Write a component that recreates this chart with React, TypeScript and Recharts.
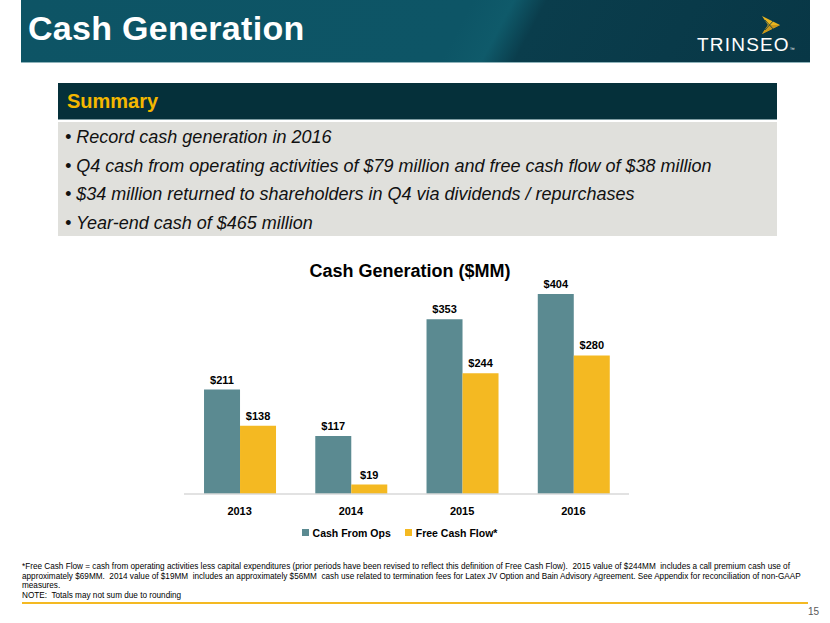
import React from "react";
import { BarChart, Bar, XAxis, YAxis, Legend, LabelList } from "recharts";

const years = ["2013", "2014", "2015", "2016"];
const cashFromOps = [211, 117, 353, 404];
const freeCashFlow = [138, 19, 244, 280];

const bullets = [
  "Record cash generation in 2016",
  "Q4 cash from operating activities of $79 million and free cash flow of $38 million",
  "$34 million returned to shareholders in Q4 via dividends / repurchases",
  "Year-end cash of $465 million",
];

const footnotes = [
  "*Free Cash Flow = cash from operating activities less capital expenditures (prior periods have been revised to reflect this definition of Free Cash Flow).  2015 value of $244MM  includes a call premium cash use of",
  "approximately $69MM.  2014 value of $19MM  includes an approximately $56MM  cash use related to termination fees for Latex JV Option and Bain Advisory Agreement. See Appendix for reconciliation of non-GAAP",
  "measures.",
  "NOTE:  Totals may not sum due to rounding",
];

const TEAL = "#5b8a91";
const GOLD = "#f4b922";

const data = years.map((y, i) => ({
  year: y,
  ops: cashFromOps[i],
  fcf: freeCashFlow[i],
}));

const money = (v: any) => `$${v}`;

const Logo = () => (
  <svg width={22} height={20} style={{ position: "absolute", left: 760, top: 15 }}>
    <polygon points="2,1 20,10 2,19 8,10" fill="#e9b51f" />
    <polygon points="8,10 20,10 2,19" fill="#c9961a" />
    <line x1="5" y1="5" x2="14" y2="15" stroke="#0a3b4b" strokeWidth={0.8} />
    <line x1="5" y1="15" x2="14" y2="5" stroke="#0a3b4b" strokeWidth={0.8} />
  </svg>
);

export default function App() {
  return (
    <div
      style={{
        position: "absolute",
        left: 0,
        top: 0,
        width: 830,
        height: 623,
        background: "#fff",
        fontFamily: "'Liberation Sans', Arial, sans-serif",
        overflow: "hidden",
      }}
    >
      {/* header band */}
      <div
        style={{
          position: "absolute",
          left: 21,
          top: 0,
          width: 789,
          height: 62,
          background:
            "linear-gradient(118deg, #0d5465 0%, #0d5566 55%, #0f5a6a 60%, #0a3d4c 64%, #083746 100%)",
          borderBottom: "1px solid #8fb3ba",
        }}
      />
      <div
        style={{
          position: "absolute",
          left: 28,
          top: 8,
          color: "#fff",
          fontSize: 34,
          fontWeight: 700,
          lineHeight: "40px",
          letterSpacing: 0.3,
        }}
      >
        Cash Generation
      </div>
      <Logo />
      <div
        style={{
          position: "absolute",
          left: 697,
          top: 34,
          color: "#fff",
          fontSize: 19,
          lineHeight: "22px",
          letterSpacing: 1.2,
        }}
      >
        TRINSEO<span style={{ fontSize: 5 }}>™</span>
      </div>

      {/* summary */}
      <div
        style={{
          position: "absolute",
          left: 58,
          top: 83,
          width: 719,
          height: 36,
          background: "#05303a",
          borderBottom: "1px solid #7f9da3",
        }}
      />
      <div
        style={{
          position: "absolute",
          left: 67,
          top: 89,
          color: "#f4b800",
          fontSize: 20,
          fontWeight: 700,
          lineHeight: "24px",
        }}
      >
        Summary
      </div>
      <div
        style={{
          position: "absolute",
          left: 58,
          top: 122,
          width: 719,
          height: 114,
          background: "#e0e0dc",
        }}
      />
      {bullets.map((b, i) => (
        <div
          key={i}
          style={{
            position: "absolute",
            left: 65,
            top: 126 + i * 28.7,
            fontSize: 18,
            fontStyle: "italic",
            lineHeight: "22px",
            color: "#111",
            whiteSpace: "nowrap",
          }}
        >
          • {b}
        </div>
      ))}

      {/* chart */}
      <div
        style={{
          position: "absolute",
          left: 170,
          top: 259,
          width: 480,
          textAlign: "center",
          fontSize: 18,
          fontWeight: 700,
          color: "#000",
          lineHeight: "24px",
        }}
      >
        Cash Generation ($MM)
      </div>
      <div style={{ position: "absolute", left: 170, top: 250 }}>
        <BarChart
          width={480}
          height={300}
          data={data}
          margin={{ top: 44, right: 21, left: 14, bottom: 26 }}
          barGap={0}
          barCategoryGap="18%"
        >
          <XAxis
            dataKey="year"
            height={30}
            axisLine={{ stroke: "#d9d9d9", strokeWidth: 1.5 }}
            tickLine={false}
            tickMargin={7}
            tick={{ fill: "#000", fontSize: 11, fontWeight: 700 }}
          />
          <YAxis hide domain={[0, 404]} />
          <Legend
            verticalAlign="middle"
            align="center"
            iconType="square"
            iconSize={7}
            wrapperStyle={{ top: 273 }}
            formatter={(value: any) => (
              <span style={{ color: "#000", fontSize: 10.5, fontWeight: 700, marginRight: 4 }}>
                {value}
              </span>
            )}
          />
          <Bar dataKey="ops" name="Cash From Ops" fill={TEAL} isAnimationActive={false}>
            <LabelList
              dataKey="ops"
              position="top"
              offset={6}
              formatter={money}
              style={{ fill: "#000", fontSize: 11, fontWeight: 700 }}
            />
          </Bar>
          <Bar dataKey="fcf" name="Free Cash Flow*" fill={GOLD} isAnimationActive={false}>
            <LabelList
              dataKey="fcf"
              position="top"
              offset={6}
              formatter={money}
              style={{ fill: "#000", fontSize: 11, fontWeight: 700 }}
            />
          </Bar>
        </BarChart>
      </div>

      {/* footnote */}
      <div
        style={{
          position: "absolute",
          left: 22,
          top: 562,
          fontSize: 8.2,
          lineHeight: "9.5px",
          color: "#000",
          whiteSpace: "pre",
        }}
      >
        {footnotes.slice(0, 3).join("\n")}
      </div>
      <div
        style={{
          position: "absolute",
          left: 22,
          top: 591,
          fontSize: 8.2,
          lineHeight: "10px",
          color: "#000",
          whiteSpace: "pre",
        }}
      >
        {footnotes[3]}
      </div>
      <div
        style={{
          position: "absolute",
          left: 22,
          top: 602,
          width: 786,
          height: 2,
          background: GOLD,
        }}
      />
      <div
        style={{
          position: "absolute",
          left: 808,
          top: 606,
          fontSize: 10,
          color: "#595959",
          lineHeight: "12px",
        }}
      >
        15
      </div>
    </div>
  );
}
